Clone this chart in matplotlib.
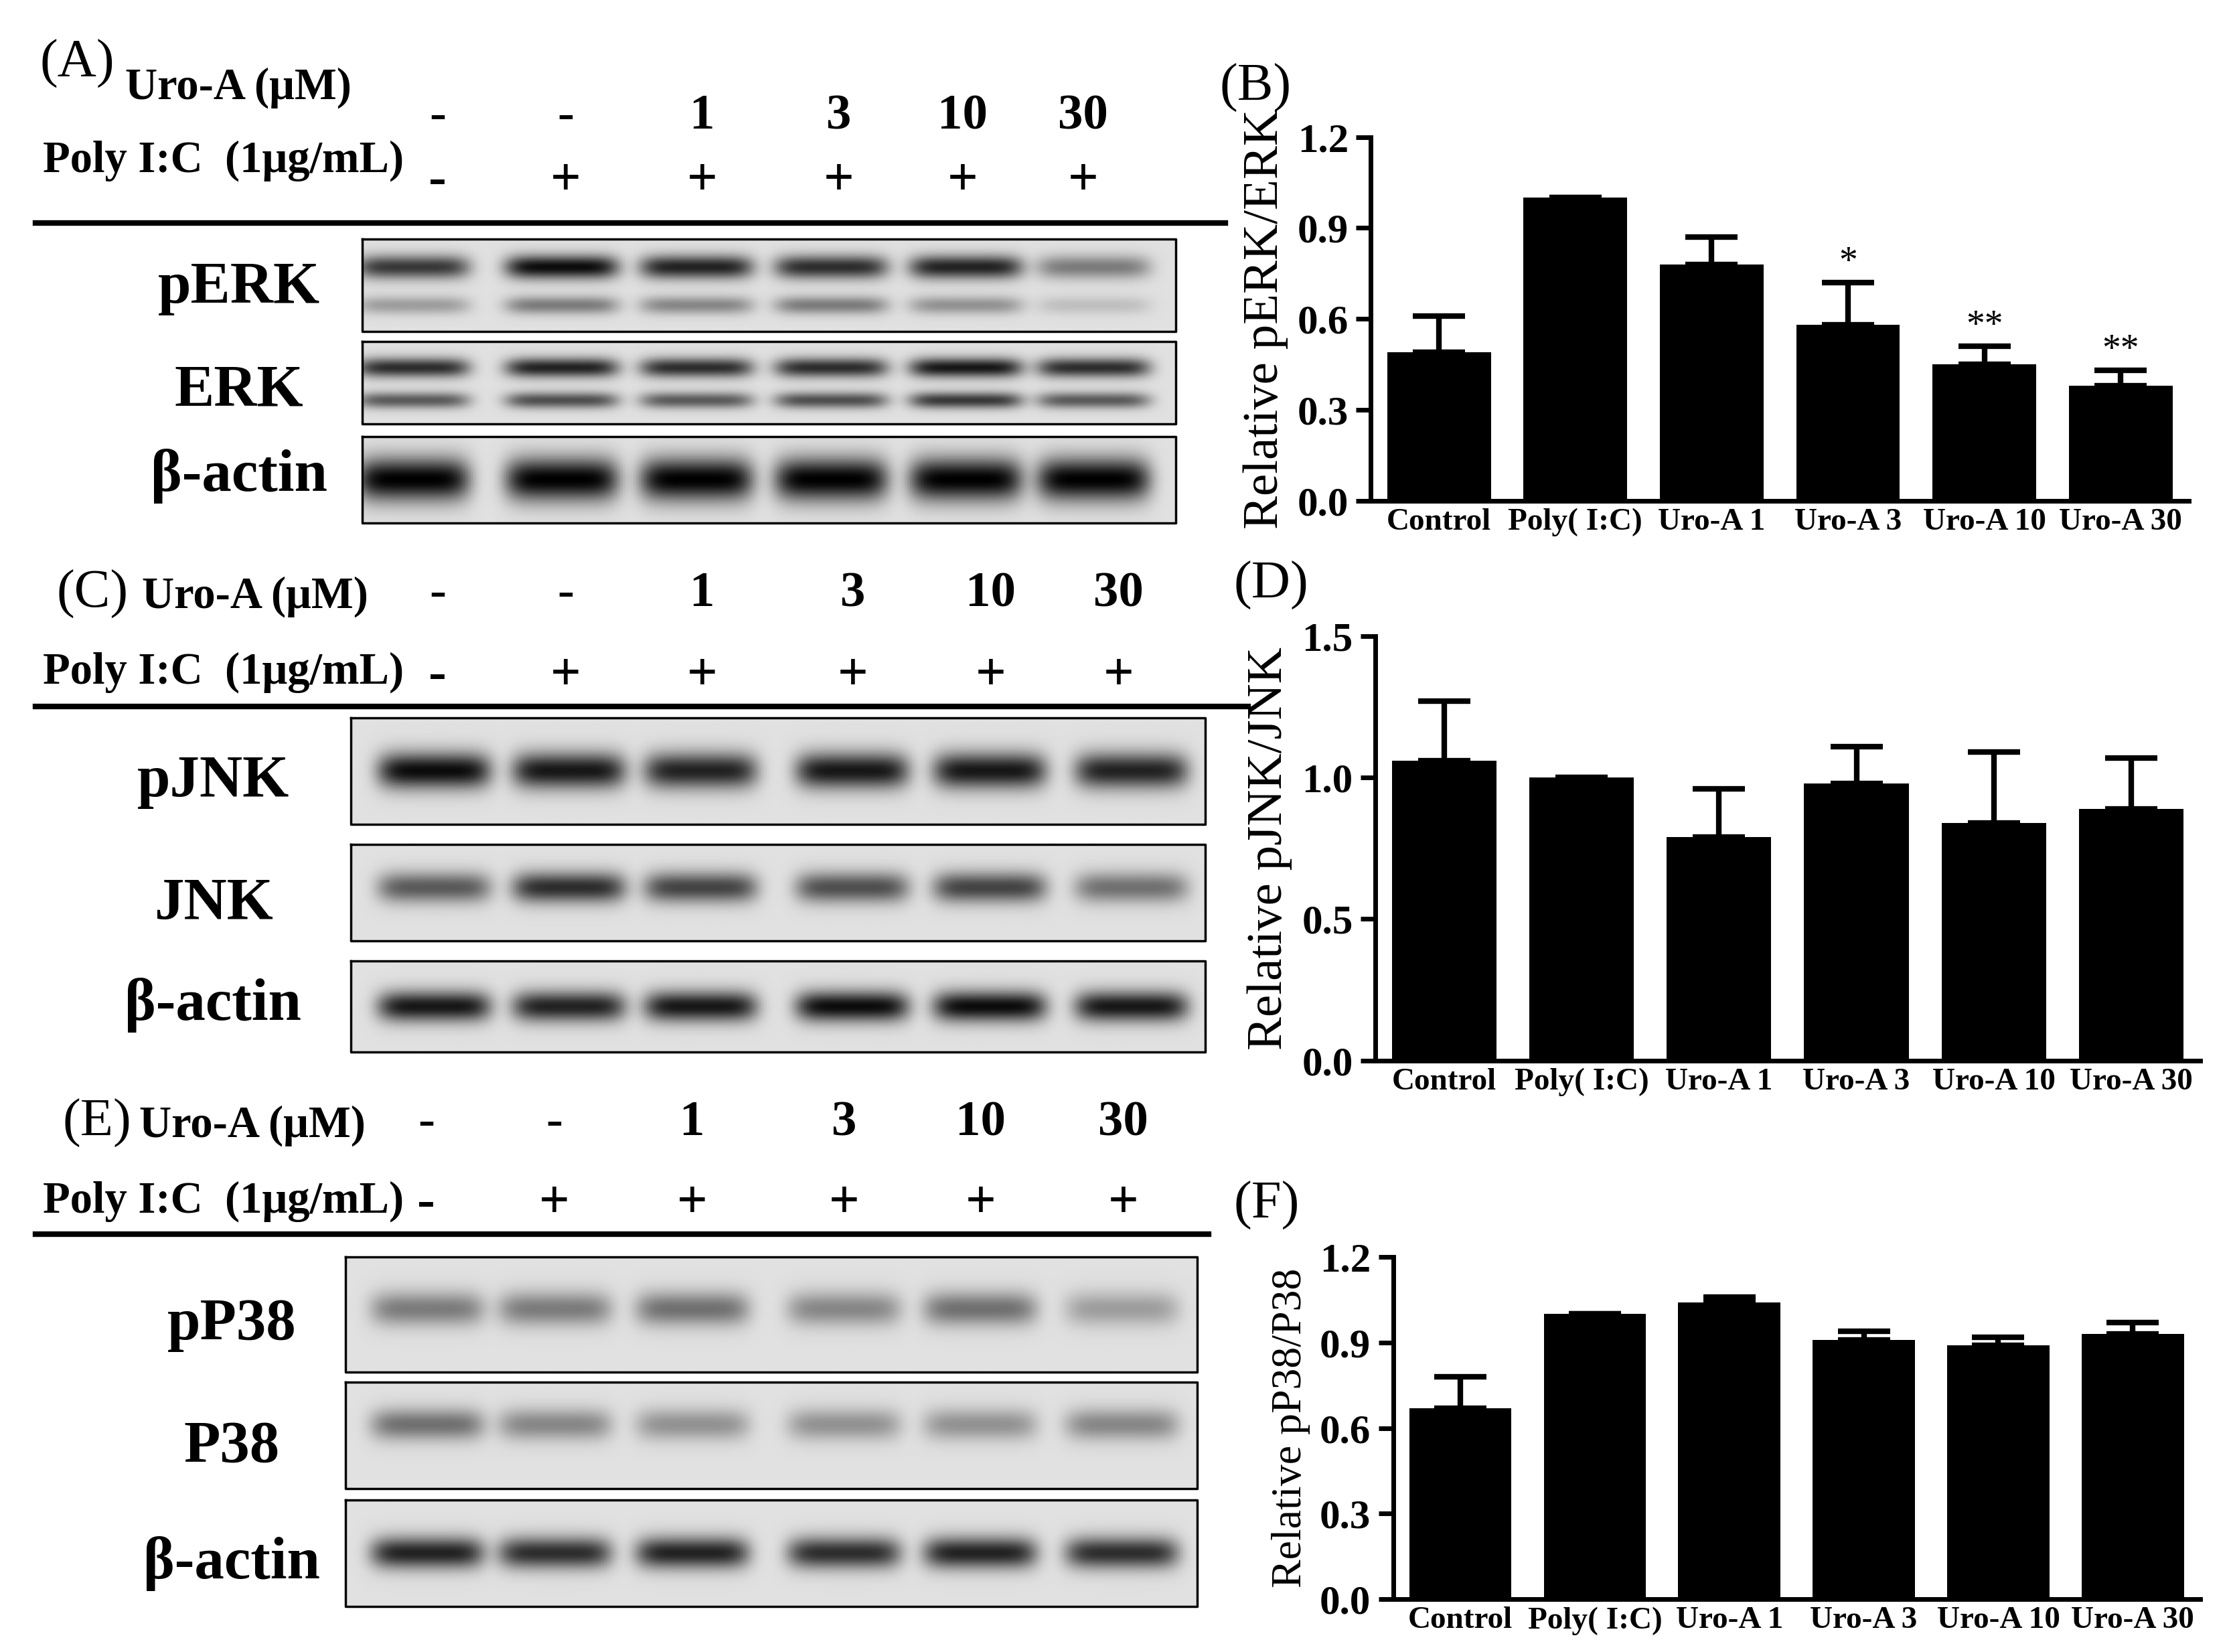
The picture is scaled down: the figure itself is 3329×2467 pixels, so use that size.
import numpy as np
import matplotlib.pyplot as plt

plt.rcParams['font.family'] = ['Liberation Serif', 'DejaVu Serif']
plt.rcParams['font.weight'] = 'bold'

groups = ["Control", "Poly( I:C)", "Uro-A 1", "Uro-A 3", "Uro-A 10", "Uro-A 30"]
uro_doses = ["-", "-", "1", "3", "10", "30"]
polyic = ["-", "+", "+", "+", "+", "+"]

perk_mean = [0.49, 1.0, 0.78, 0.58, 0.45, 0.38]
perk_err = [0.12, 0.0, 0.09, 0.14, 0.06, 0.05]
perk_sig = ["", "", "", "*", "**", "**"]
pjnk_mean = [1.06, 1.0, 0.79, 0.98, 0.84, 0.89]
pjnk_err = [0.21, 0.0, 0.17, 0.13, 0.25, 0.18]
pp38_mean = [0.67, 1.0, 1.04, 0.91, 0.89, 0.93]
pp38_err = [0.11, 0.0, 0.02, 0.03, 0.03, 0.04]

# band intensities (0..1) per lane, read from the blots
band_perk = [0.75, 0.95, 0.85, 0.8, 0.85, 0.45]
band_perk_low = [0.3, 0.45, 0.4, 0.45, 0.35, 0.15]
band_erk = [0.8, 0.85, 0.8, 0.8, 0.9, 0.8]
band_erk_low = [0.6, 0.65, 0.6, 0.65, 0.75, 0.6]
band_actin_a = [1.0, 1.0, 1.0, 1.0, 1.0, 1.0]
band_pjnk = [0.95, 0.9, 0.85, 0.9, 0.9, 0.85]
band_jnk = [0.6, 0.8, 0.7, 0.65, 0.7, 0.5]
band_actin_c = [0.9, 0.85, 0.9, 0.95, 0.95, 0.9]
band_pp38 = [0.45, 0.45, 0.5, 0.4, 0.5, 0.3]
band_p38 = [0.5, 0.4, 0.35, 0.35, 0.35, 0.4]
band_actin_e = [0.85, 0.8, 0.85, 0.8, 0.85, 0.8]

W, H = 1568, 1162
fig = plt.figure(figsize=(33.29, 24.67), dpi=100)
ov = fig.add_axes([0, 0, 1, 1])
ov.set_xlim(0, W)
ov.set_ylim(H, 0)
ov.axis('off')


def blot(x0, x1, y0, y1, lanes, rows, bg=0.88):
    """rows: list of (relative y, intensities, thickness)"""
    nx, ny = 300, 60
    xs = np.linspace(x0, x1, nx)
    ys = np.linspace(0, 1, ny)
    img = np.full((ny, nx), bg)
    for ry, inten, th in rows:
        for cx, a in zip(lanes, inten):
            px = np.exp(-((xs - cx) / 40.0) ** 6)
            py = np.exp(-((ys - ry) / th) ** 2)
            img -= a * bg * np.outer(py, px)
    img = np.clip(img, 0, 1)
    ov.imshow(img, cmap='gray', vmin=0, vmax=1, extent=[x0, x1, y1, y0],
              aspect='auto', zorder=1)
    ov.plot([x0, x1, x1, x0, x0], [y0, y0, y1, y1, y0], color='k', lw=2.5, zorder=2)


def header(ylab1, ycol1, ylab2, ycol2, xs, yline, xline, label, lx, ly, urox, polyx):
    ov.text(lx, ly, label, fontsize=58, fontweight='normal', va='center')
    ov.text(urox, ylab1, "Uro-A (\u03bcM)", fontsize=48, va='center')
    ov.text(polyx, ylab2, "Poly I:C  (1\u03bcg/mL)", fontsize=48, va='center')
    for x, d, p in zip(xs, uro_doses, polyic):
        ov.text(x, ycol1, d, fontsize=54, ha='center', va='center')
        ov.text(x, ycol2, p, fontsize=58, ha='center', va='center')
    ov.plot([25, xline], [yline, yline], color='k', lw=6)


# Panel A
header(62, 82, 113, 128, [308, 398, 494, 590, 677, 762], 157, 862,
       "(A)", 28, 45, 88, 30)
la = [290, 395, 490, 585, 680, 770]
blot(255, 827, 168, 233, la, [(0.3, band_perk, 0.13), (0.72, band_perk_low, 0.1)])
blot(255, 827, 240, 298, la, [(0.32, band_erk, 0.12), (0.72, band_erk_low, 0.1)])
blot(255, 827, 307, 368, la, [(0.5, band_actin_a, 0.25)])
for y, t in [(203, "pERK"), (275, "ERK"), (335, "\u03b2-actin")]:
    ov.text(168, y, t, fontsize=64, ha='center', va='center')

# Panel C
header(420, 418, 473, 476, [308, 398, 494, 600, 697, 787], 497, 878,
       "(C)", 40, 418, 100, 30)
lc = [305, 400, 493, 600, 697, 797]
blot(247, 848, 505, 580, lc, [(0.5, band_pjnk, 0.17)])
blot(247, 848, 594, 662, lc, [(0.45, band_jnk, 0.16)])
blot(247, 848, 676, 740, lc, [(0.5, band_actin_c, 0.17)])
for y, t in [(550, "pJNK"), (636, "JNK"), (707, "\u03b2-actin")]:
    ov.text(150, y, t, fontsize=64, ha='center', va='center')

# Panel E
header(792, 790, 845, 847, [300, 390, 487, 594, 690, 790], 868, 850,
       "(E)", 44, 790, 98, 30)
le = [300, 390, 487, 594, 690, 790]
blot(243, 842, 884, 965, le, [(0.45, band_pp38, 0.15)])
blot(243, 842, 972, 1047, le, [(0.4, band_p38, 0.15)])
blot(243, 842, 1055, 1130, le, [(0.5, band_actin_e, 0.15)])
for y, t in [(932, "pP38"), (1018, "P38"), (1100, "\u03b2-actin")]:
    ov.text(163, y, t, fontsize=64, ha='center', va='center')


def barpanel(rect, mean, err, ylim, ticks, fmt, ylabel, label, lpos, sig=None, ylfs=54):
    ax = fig.add_axes(rect)
    x = np.arange(len(groups))
    ax.bar(x, mean, width=0.76, color='black', zorder=2)
    ax.errorbar(x, mean, yerr=[np.zeros(len(err)), err], fmt='none', ecolor='black',
                elinewidth=6, capsize=28, capthick=6, zorder=1)
    if sig:
        for xi, m, e, s in zip(x, mean, err, sig):
            if s:
                ax.text(xi, m + e + ylim[1] * 0.005, s, ha='center', va='bottom',
                        fontsize=40, fontweight='normal')
    ax.set_xlim(-0.5, 5.5)
    ax.set_ylim(*ylim)
    ax.set_yticks(ticks)
    ax.set_yticklabels([fmt % t for t in ticks], fontsize=44)
    ax.set_xticks(x)
    ax.set_xticklabels(groups, fontsize=34)
    ax.tick_params(axis='x', length=0, pad=8)
    ax.tick_params(axis='y', width=5, length=16, pad=8)
    for s in ['top', 'right']:
        ax.spines[s].set_visible(False)
    for s in ['left', 'bottom']:
        ax.spines[s].set_linewidth(5)
    ax.set_ylabel(ylabel, fontsize=ylfs, labelpad=10)
    ov.text(lpos[0], lpos[1], label, fontsize=58, fontweight='normal', va='center')
    return ax


barpanel([0.615, 0.697, 0.367, 0.22], perk_mean, perk_err, (0, 1.2),
         [0.0, 0.3, 0.6, 0.9, 1.2], "%.1f", "Relative pERK/ERK", "(B)", (858, 62), perk_sig)
barpanel([0.617, 0.358, 0.37, 0.257], pjnk_mean, pjnk_err, (0, 1.5),
         [0.0, 0.5, 1.0, 1.5], "%.1f", "Relative pJNK/JNK", "(D)", (868, 412))
barpanel([0.625, 0.032, 0.362, 0.207], pp38_mean, pp38_err, (0, 1.2),
         [0.0, 0.3, 0.6, 0.9, 1.2], "%.1f", "Relative pP38/P38", "(F)", (868, 848), ylfs=46)

fig.savefig("out.png", dpi=100)
